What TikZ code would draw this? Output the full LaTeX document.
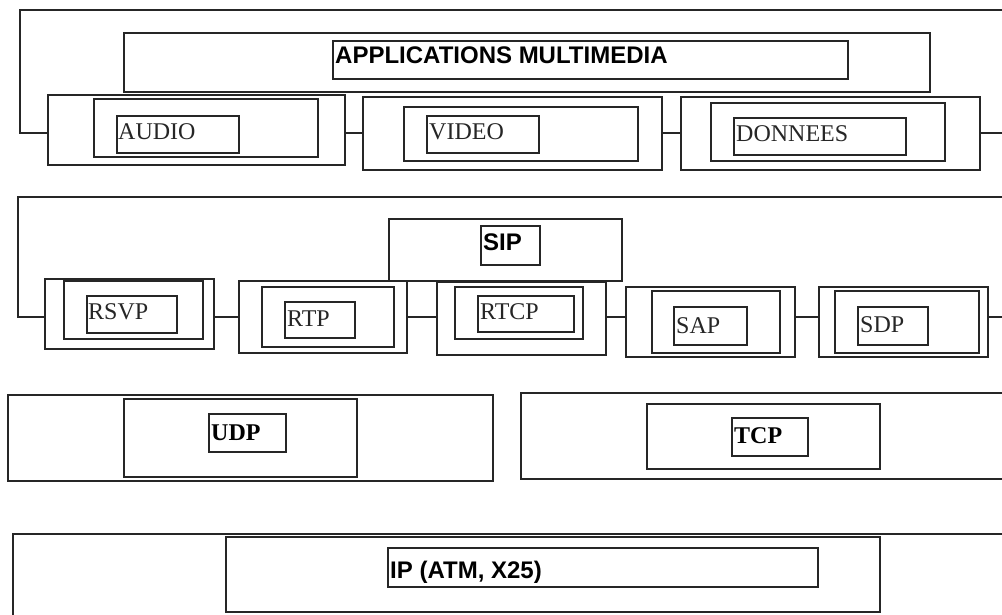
\documentclass[tikz,border=0pt]{standalone}
\usepackage{fontspec}
\setmainfont{Liberation Serif}
\setsansfont{Liberation Sans}
\usetikzlibrary{fit}
\newcommand\mybox[5]{\node[box, fit={(#2,#3) (#4,#5)}] (#1) {};}
\tikzset{
  x=1pt, y=-1pt,
  box/.style={draw=black!85, line width=1.6pt, inner sep=0pt, outer sep=0pt},
  wire/.style={draw=black!85, line width=1.6pt},
  serl/.style={anchor=base west, inner sep=0pt, font=\fontsize{24}{28}\selectfont\rmfamily, text=black!85},
  serb/.style={anchor=base west, inner sep=0pt, font=\fontsize{24}{28}\selectfont\rmfamily\bfseries},
  sanb/.style={anchor=base west, inner sep=0pt, font=\fontsize{24}{28}\selectfont\sffamily\bfseries},
}
\begin{document}
\begin{tikzpicture}
\useasboundingbox (0,0) rectangle (1002,615);
\clip (0,0) rectangle (1002,615);
\fill[white] (0,0) rectangle (1002,615);
% ---------- top layer ----------
\mybox{appO}{124}{33}{930}{92}
\mybox{appI}{333}{41}{848}{79}
\node[sanb] (appT) at (335,64) {APPLICATIONS MULTIMEDIA};
\mybox{audO}{48}{95}{345}{165}
\mybox{audM}{94}{99}{318}{157}
\mybox{audI}{117}{116}{239}{153}
\node[serl] (audT) at (118,140) {AUDIO};
\mybox{vidO}{363}{97}{662}{170}
\mybox{vidM}{404}{107}{638}{161}
\mybox{vidI}{427}{116}{539}{153}
\node[serl] (vidT) at (429,140) {VIDEO};
\mybox{donO}{681}{97}{980}{170}
\mybox{donM}{711}{103}{945}{161}
\mybox{donI}{734}{118}{906}{155}
\node[serl] (donT) at (736,142) {DONNEES};
\coordinate (r1) at (0,133);
\coordinate (t1l) at (20,10);
\coordinate (t1r) at (1015,10);
\coordinate (r1e) at (1015,133);
\draw[wire] (t1r) -- (t1l) |- (audO.west |- r1);
\draw[wire] (audO.east |- r1) -- (vidO.west |- r1);
\draw[wire] (vidO.east |- r1) -- (donO.west |- r1);
\draw[wire] (donO.east |- r1) -- (r1e);
% ---------- second layer ----------
\mybox{sipO}{389}{219}{622}{281}
\mybox{sipI}{481}{226}{540}{265}
\node[sanb] (sipT) at (483,251) {SIP};
\mybox{rsvO}{45}{279}{214}{349}
\mybox{rsvM}{64}{281}{203}{339}
\mybox{rsvI}{87}{296}{177}{333}
\node[serl] (rsvT) at (88,319) {RSVP};
\mybox{rtpO}{239}{281}{407}{353}
\mybox{rtpM}{262}{287}{394}{347}
\mybox{rtpI}{285}{302}{355}{338}
\node[serl] (rtpT) at (287,326) {RTP};
\mybox{rtcO}{437}{282}{606}{355}
\mybox{rtcM}{455}{287}{583}{339}
\mybox{rtcI}{478}{296}{574}{332}
\node[serl] (rtcT) at (480,319) {RTCP};
\mybox{sapO}{626}{287}{795}{357}
\mybox{sapM}{652}{291}{780}{353}
\mybox{sapI}{674}{307}{747}{345}
\node[serl] (sapT) at (676,333) {SAP};
\mybox{sdpO}{819}{287}{988}{357}
\mybox{sdpM}{835}{291}{979}{353}
\mybox{sdpI}{858}{307}{928}{345}
\node[serl] (sdpT) at (860,332) {SDP};
\coordinate (r2) at (0,317);
\coordinate (t2l) at (18,197);
\coordinate (t2r) at (1015,197);
\coordinate (r2e) at (1015,317);
\draw[wire] (t2r) -- (t2l) |- (rsvO.west |- r2);
\draw[wire] (rsvO.east |- r2) -- (rtpO.west |- r2);
\draw[wire] (rtpO.east |- r2) -- (rtcO.west |- r2);
\draw[wire] (rtcO.east |- r2) -- (sapO.west |- r2);
\draw[wire] (sapO.east |- r2) -- (sdpO.west |- r2);
\draw[wire] (sdpO.east |- r2) -- (r2e);
% ---------- transport layer ----------
\mybox{udpO}{8}{395}{493}{481}
\mybox{udpM}{124}{399}{357}{477}
\mybox{udpI}{209}{414}{286}{452}
\node[serb] (udpT) at (211,440) {UDP};
\mybox{tcpO}{521}{393}{1015}{479}
\mybox{tcpM}{647}{404}{880}{469}
\mybox{tcpI}{732}{418}{808}{456}
\node[serb] (tcpT) at (734,443) {TCP};
% ---------- network layer ----------
\mybox{ipO}{13}{534}{1015}{630}
\mybox{ipM}{226}{537}{880}{612}
\mybox{ipI}{388}{548}{818}{587}
\node[sanb] (ipT) at (390,578) {IP (ATM, X25)};
\end{tikzpicture}
\end{document}
